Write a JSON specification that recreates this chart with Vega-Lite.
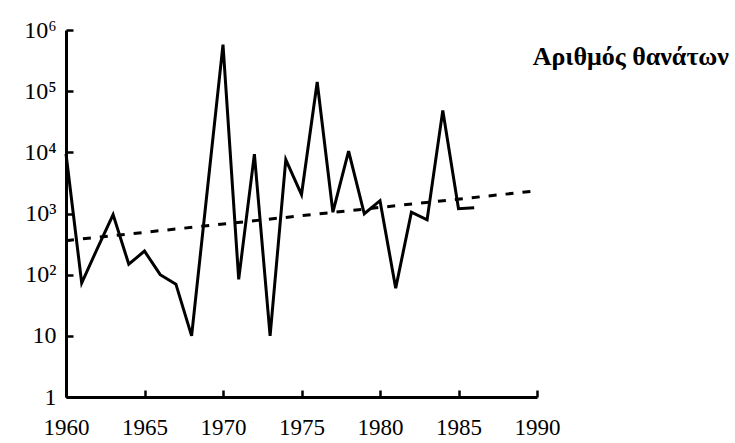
{
  "$schema": "https://vega.github.io/schema/vega-lite/v6.json",
  "width": 471,
  "height": 367,
  "autosize": {"type": "none"},
  "padding": {"left": 66, "top": 30, "right": 198, "bottom": 46},
  "background": "white",
  "config": {
    "view": {"stroke": null},
    "axis": {
      "grid": false,
      "domainColor": "black",
      "domainWidth": 3,
      "tickColor": "black",
      "tickWidth": 2.5,
      "labelFont": "Liberation Serif",
      "labelColor": "black",
      "title": null
    }
  },
  "title": {
    "text": "Αριθμός θανάτων",
    "anchor": "end",
    "frame": "group",
    "orient": "top",
    "baseline": "top",
    "offset": 0,
    "dx": 192,
    "dy": 52,
    "font": "Liberation Serif",
    "fontSize": 26,
    "fontWeight": "bold",
    "color": "black"
  },
  "datasets": {
    "deaths": [
      {"year": 1960, "deaths": 9500},
      {"year": 1961, "deaths": 73},
      {"year": 1962, "deaths": 270},
      {"year": 1963, "deaths": 960},
      {"year": 1964, "deaths": 148},
      {"year": 1965, "deaths": 243},
      {"year": 1966, "deaths": 100},
      {"year": 1967, "deaths": 70},
      {"year": 1968, "deaths": 10},
      {"year": 1969, "deaths": 2400},
      {"year": 1970, "deaths": 577000},
      {"year": 1971, "deaths": 84},
      {"year": 1972, "deaths": 9350},
      {"year": 1973, "deaths": 10},
      {"year": 1974, "deaths": 7600},
      {"year": 1975, "deaths": 2040},
      {"year": 1976, "deaths": 141000},
      {"year": 1977, "deaths": 1050},
      {"year": 1978, "deaths": 10500},
      {"year": 1979, "deaths": 990},
      {"year": 1980, "deaths": 1620},
      {"year": 1981, "deaths": 60},
      {"year": 1982, "deaths": 1050},
      {"year": 1983, "deaths": 790},
      {"year": 1984, "deaths": 48500},
      {"year": 1985, "deaths": 1200},
      {"year": 1986, "deaths": 1240}
    ],
    "trend": [
      {"year": 1960, "deaths": 360},
      {"year": 1990, "deaths": 2350}
    ]
  },
  "layer": [
    {
      "data": {"name": "deaths"},
      "mark": {"type": "line", "color": "black", "strokeWidth": 3, "clip": false},
      "encoding": {
        "x": {
          "field": "year",
          "type": "quantitative",
          "scale": {"domain": [1960, 1990], "nice": false, "zero": false},
          "axis": {
            "values": [1960, 1965, 1970, 1975, 1980, 1985, 1990],
            "format": "d",
            "tickSize": -7,
            "labelPadding": 26,
            "labelFontSize": 23,
            "labelFlush": false,
            "labelOverlap": false
          }
        },
        "y": {
          "field": "deaths",
          "type": "quantitative",
          "scale": {"type": "log", "domain": [1, 1000000], "nice": false},
          "axis": {
            "values": [1, 10, 100, 1000, 10000, 100000, 1000000],
            "labelExpr": "['1','10','10²','10³','10⁴','10⁵','10⁶'][round(log(datum.value)/LN10)]",
            "tickSize": -7,
            "labelPadding": 17,
            "labelFontSize": 24,
            "labelFlush": false,
            "labelOverlap": false
          }
        }
      }
    },
    {
      "data": {"name": "trend"},
      "mark": {"type": "line", "color": "black", "strokeWidth": 3, "strokeDash": [8, 9], "clip": false},
      "encoding": {
        "x": {"field": "year", "type": "quantitative"},
        "y": {"field": "deaths", "type": "quantitative"}
      }
    }
  ]
}
